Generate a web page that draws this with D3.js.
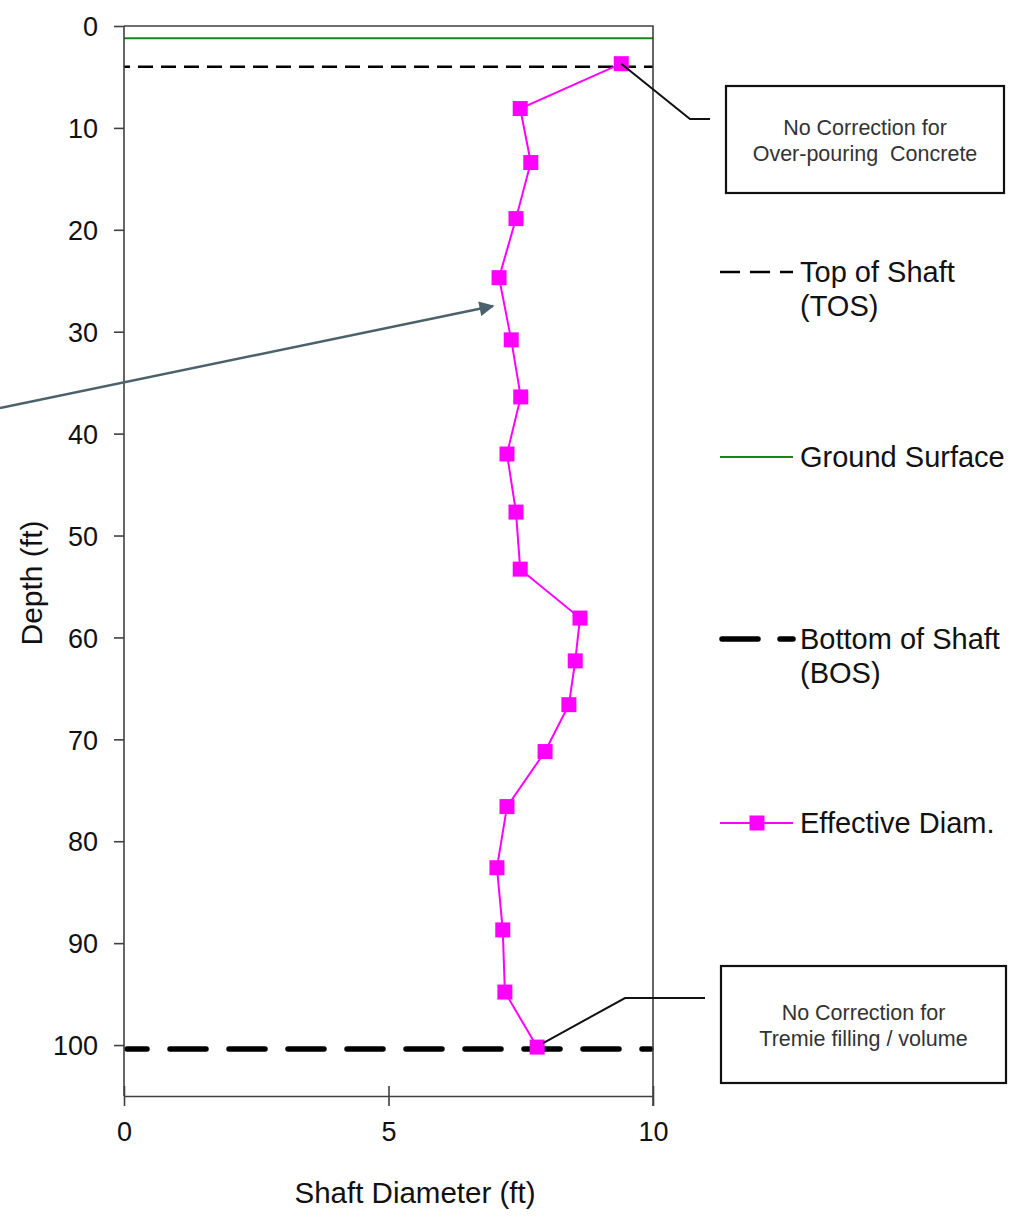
<!DOCTYPE html>
<html>
<head>
<meta charset="utf-8">
<script src="https://cdn.jsdelivr.net/npm/d3@7"></script>
<style>
  body { margin: 0; background: #fff; }
  text { font-family: "Liberation Sans", Arial, sans-serif; }
</style>
</head>
<body>
<script>
// effective diameter readings (ft) by depth (ft)
const depths = [3.7, 8.1, 13.4, 18.9, 24.7, 30.8, 36.4, 42.0, 47.7, 53.3, 58.1, 62.3, 66.6, 71.2, 76.6, 82.6, 88.7, 94.8, 100.2]
const diameters = [9.40, 7.49, 7.69, 7.41, 7.09, 7.32, 7.50, 7.24, 7.41, 7.49, 8.62, 8.53, 8.41, 7.96, 7.24, 7.05, 7.16, 7.20, 7.81]

const groundDepth = 1.2
const tosDepth = 4.0
const bosDepth = 100.4

const xTicks = [0, 5, 10]
const yTicks = [0, 10, 20, 30, 40, 50, 60, 70, 80, 90, 100]

const WIDTH = 1010
const HEIGHT = 1217

const PLOT = { left: 124, right: 653, top: 26, bottom: 1096 }

const AXIS_COLOR = "#404040"

const svg = d3
    .select("body")
    .append("svg")
    .attr("width", WIDTH)
    .attr("height", HEIGHT)

const x = d3.scaleLinear().domain([0, 10]).range([PLOT.left, PLOT.right])
const y = d3.scaleLinear().domain([0, 105]).range([PLOT.top, PLOT.bottom])

// reference lines
svg.append("line")
    .attr("x1", x(0)).attr("x2", x(10))
    .attr("y1", y(groundDepth)).attr("y2", y(groundDepth))
    .attr("stroke", "#128a12")
    .attr("stroke-width", 2.2)

svg.append("line")
    .attr("x1", x(0)).attr("x2", x(10))
    .attr("y1", y(tosDepth)).attr("y2", y(tosDepth))
    .attr("stroke", "#000")
    .attr("stroke-width", 2.5)
    .attr("stroke-dasharray", "15,8")
    .attr("stroke-dashoffset", 9)

svg.append("line")
    .attr("x1", x(0) + 3).attr("x2", x(10) - 2)
    .attr("y1", y(bosDepth)).attr("y2", y(bosDepth))
    .attr("stroke", "#000")
    .attr("stroke-width", 5.5)
    .attr("stroke-linecap", "round")
    .attr("stroke-dasharray", "36,23")
    .attr("stroke-dashoffset", 16)

// frame
svg.append("path")
    .attr("d", `M${PLOT.left},${PLOT.top}H${PLOT.right}V${PLOT.bottom + 10}`)
    .attr("fill", "none")
    .attr("stroke", AXIS_COLOR)
    .attr("stroke-width", 1.6)

// axes
const yAxis = d3.axisLeft(y)
    .tickValues(yTicks)
    .tickSize(10)
    .tickPadding(16)

const yG = svg.append("g")
    .attr("transform", `translate(${PLOT.left},0)`)
    .call(yAxis)
yG.select(".domain").attr("d", `M0,${PLOT.top}V${PLOT.bottom}`)

const xAxis = d3.axisBottom(x)
    .tickValues(xTicks)
    .tickSizeInner(10)
    .tickSizeOuter(0)
    .tickPadding(16)

const xG = svg.append("g")
    .attr("transform", `translate(0,${PLOT.bottom})`)
    .call(xAxis)
xG.selectAll(".tick line").attr("y1", -10)

svg.selectAll(".domain, .tick line")
    .attr("stroke", AXIS_COLOR)
    .attr("stroke-width", 1.6)
svg.selectAll(".tick text")
    .attr("font-size", 27)
    .attr("fill", "#111")
yG.selectAll(".tick text").attr("font-size", 27).attr("dy", "0.36em")

svg.append("text")
    .attr("x", 415)
    .attr("y", 1203)
    .attr("text-anchor", "middle")
    .attr("font-size", 29.5)
    .attr("fill", "#111")
    .text("Shaft Diameter (ft)")

svg.append("text")
    .attr("transform", `translate(42,583) rotate(-90)`)
    .attr("text-anchor", "middle")
    .attr("font-size", 30)
    .attr("fill", "#111")
    .text("Depth (ft)")

// effective diameter series
const points = depths.map((d, i) => ({ depth: d, diam: diameters[i] }))

const line = d3.line()
    .x(d => x(d.diam))
    .y(d => y(d.depth))

svg.append("path")
    .datum(points)
    .attr("d", line)
    .attr("fill", "none")
    .attr("stroke", "#ff00ff")
    .attr("stroke-width", 2)

const MARK = 15
svg.selectAll(".marker")
    .data(points)
    .enter()
    .append("rect")
    .attr("class", "marker")
    .attr("x", d => x(d.diam) - MARK / 2)
    .attr("y", d => y(d.depth) - MARK / 2)
    .attr("width", MARK)
    .attr("height", MARK)
    .attr("fill", "#ff00ff")

// arrow
const defs = svg.append("defs")
defs.append("marker")
    .attr("id", "arrowhead")
    .attr("viewBox", "0 0 10 10")
    .attr("refX", 9)
    .attr("refY", 5)
    .attr("markerWidth", 7.5)
    .attr("markerHeight", 6)
    .attr("markerUnits", "strokeWidth")
    .attr("orient", "auto")
    .append("path")
    .attr("d", "M0,0L10,5L0,10z")
    .attr("fill", "#4b616b")

svg.append("line")
    .attr("x1", 0).attr("y1", 408)
    .attr("x2", 493).attr("y2", 306)
    .attr("stroke", "#4b616b")
    .attr("stroke-width", 2.5)
    .attr("marker-end", "url(#arrowhead)")

// callouts
const firstPt = points[0]
const lastPt = points[points.length - 1]

svg.append("path")
    .attr("d", `M${x(firstPt.diam)},${y(firstPt.depth)}L690,119H710`)
    .attr("fill", "none")
    .attr("stroke", "#111")
    .attr("stroke-width", 2)

svg.append("path")
    .attr("d", `M${x(lastPt.diam) + 6},${y(lastPt.depth) - 4}L625,998H705`)
    .attr("fill", "none")
    .attr("stroke", "#111")
    .attr("stroke-width", 2)

const notes = [
    { x: 726, y: 86, w: 278, h: 107, lines: ["No Correction for", "Over-pouring  Concrete"] },
    { x: 721, y: 966, w: 285, h: 117, lines: ["No Correction for", "Tremie filling / volume"] }
]

notes.forEach(n => {
    svg.append("rect")
        .attr("x", n.x).attr("y", n.y)
        .attr("width", n.w).attr("height", n.h)
        .attr("fill", "#fff")
        .attr("stroke", "#111")
        .attr("stroke-width", 2.2)
    svg.append("text")
        .attr("x", n.x + n.w / 2)
        .attr("y", n.y + n.h / 2 - 5)
        .attr("text-anchor", "middle")
        .attr("font-size", 21.5)
        .attr("fill", "#333")
        .style("white-space", "pre")
        .selectAll("tspan")
        .data(n.lines)
        .enter()
        .append("tspan")
        .attr("x", n.x + n.w / 2)
        .attr("dy", (_, i) => i === 0 ? 0 : 26)
        .text(d => d)
})

// legend
const legendItems = [
    { y: 272, lines: ["Top of Shaft", "(TOS)"], stroke: "#000", width: 2.5, dash: "20,10", cap: "butt" },
    { y: 457, lines: ["Ground Surface"], stroke: "#128a12", width: 2.2, dash: null, cap: "butt" },
    { y: 639, lines: ["Bottom of Shaft", "(BOS)"], stroke: "#000", width: 5.5, dash: "36,22", cap: "round" },
    { y: 823, lines: ["Effective Diam."], stroke: "#ff00ff", width: 2, dash: null, cap: "butt", marker: true }
]

const legend = svg.append("g")

legendItems.forEach(it => {
    const g = legend.append("g")
    g.append("line")
        .attr("x1", it.cap === "round" ? 722 : 720)
        .attr("x2", 793)
        .attr("y1", it.y).attr("y2", it.y)
        .attr("stroke", it.stroke)
        .attr("stroke-width", it.width)
        .attr("stroke-linecap", it.cap)
        .attr("stroke-dasharray", it.dash)
    if (it.marker) {
        g.append("rect")
            .attr("x", 757 - MARK / 2)
            .attr("y", it.y - MARK / 2)
            .attr("width", MARK)
            .attr("height", MARK)
            .attr("fill", "#ff00ff")
    }
    g.append("text")
        .attr("x", 800)
        .attr("y", it.y + 10)
        .attr("font-size", 29)
        .attr("fill", "#111")
        .selectAll("tspan")
        .data(it.lines)
        .enter()
        .append("tspan")
        .attr("x", 800)
        .attr("dy", (_, i) => i === 0 ? 0 : 34)
        .text(d => d)
})
</script>
</body>
</html>
